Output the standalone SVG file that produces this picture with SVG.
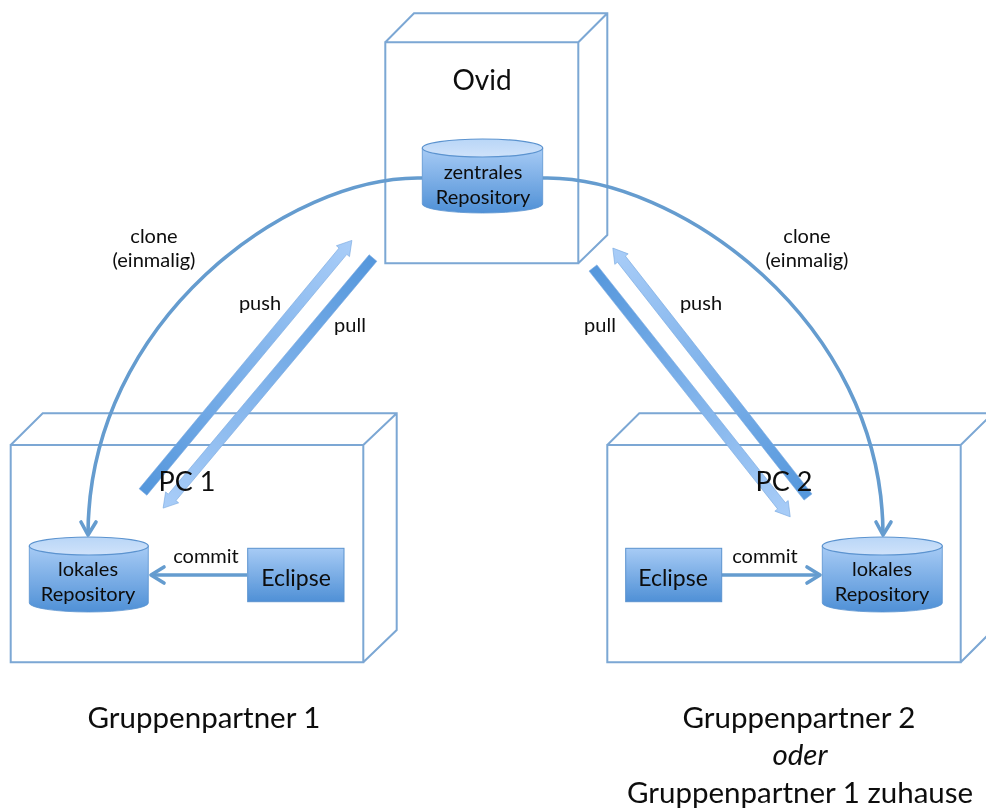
<svg xmlns="http://www.w3.org/2000/svg" width="986" height="809" viewBox="0 0 986 809">
<style>
text{font-family:Lato,"Liberation Sans",sans-serif;fill:#0c0c0c;text-anchor:middle}
.s{font-size:20px}.l{font-size:23px}.o{font-size:28px}.b{font-size:29.5px}.x{font-size:27px}
.box{fill:none;stroke:#7ba7d4;stroke-width:2}
.cyl{fill:url(#body);stroke:#5b93cf;stroke-width:.8}
.cap{fill:url(#cap);stroke:#5b93cf;stroke-width:1.2}
.rec{fill:url(#body);stroke:#5b93cf;stroke-width:1}
.arc{fill:none;stroke:#659ccf;stroke-width:3.6}
.hd{fill:none;stroke:#659ccf;stroke-width:3.6;stroke-linecap:round;stroke-linejoin:round}
.ar{fill:url(#fade);stroke:#79a9e0;stroke-width:.6}
</style>
<defs>
<linearGradient id="body" x1="0" y1="0" x2="0" y2="1"><stop offset="0" stop-color="#a7cbf5"/><stop offset="1" stop-color="#4f90d6"/></linearGradient>
<linearGradient id="cap" x1="0" y1="0" x2="0" y2="1"><stop offset="0" stop-color="#b9d6f7"/><stop offset="1" stop-color="#cfe2fa"/></linearGradient>
<linearGradient id="fade" x1="0" y1="0" x2="1" y2="0"><stop offset="0" stop-color="#5597dc"/><stop offset="1" stop-color="#a9cdf8"/></linearGradient>
<filter id="soft" x="-2%" y="-2%" width="104%" height="104%"><feGaussianBlur stdDeviation="0.6"/></filter>
</defs>
<rect width="986" height="809" fill="#fff"/>
<g filter="url(#soft)">
<g id="ovid">
<path class="box" d="M385.3,42.3H578.3V263.3H385.3ZM385.3,42.3L414,13.3H607.3V235L578.3,263.3M578.3,42.3L607.3,13.3"/>
<text class="o" x="482" y="90">Ovid</text>
</g>
<g id="pc1">
<path class="box" d="M10.7,445H363.3V662.3H10.7ZM10.7,445L42.7,413.3H396.7V630L363.3,662.3M363.3,445L396.7,413.3"/>
</g>
<g id="pc2">
<path class="box" d="M607.3,445H960.7V662.3H607.3ZM607.3,445L639.3,413.3H993V630L960.7,662.3M960.7,445L993,413.3"/>
</g>
<g id="connectors">
<path class="arc" d="M422,178C290,175 88,320 88,535"/>
<path class="hd" d="M81,522L88,535L96,522"/>
<path class="arc" d="M543,178C675,175 883,320 883,535"/>
<path class="hd" d="M876,522L883,535L891,522"/>
<path class="arc" d="M247,575H151"/>
<path class="hd" d="M164,567L151,575L164,583"/>
<path class="arc" d="M722,575H820"/>
<path class="hd" d="M807,567L820,575L807,583"/>
<path class="ar" transform="translate(143,492) rotate(-50.3)" d="M0,-5H313V-8.500L327,0L313,8.500V5H0Z"/>
<path class="ar" transform="translate(373,258) rotate(130)" d="M0,-5H312.500V-8.500L326.500,0L312.500,8.500V5H0Z"/>
<path class="ar" transform="translate(593,268) rotate(51.6)" d="M0,-5H303.500V-8.500L317.500,0L303.500,8.500V5H0Z"/>
<path class="ar" transform="translate(808,497) rotate(231.900)" d="M0,-5H302.300V-8.500L316.300,0L302.300,8.500V5H0Z"/>
</g>
<g id="central-repo">
<path class="cyl" d="M422.300,148V204A60.200,9 0 0 0 542.700,204V148Z"/>
<ellipse class="cap" cx="482.500" cy="148" rx="60.200" ry="9"/>
<text class="s" x="483" y="179">zentrales</text>
<text class="s" x="483" y="204">Repository</text>
</g>
<g id="local-repo-1">
<path class="cyl" d="M29.300,546V603A59.500,9 0 0 0 148.300,603V546Z"/>
<ellipse class="cap" cx="88.800" cy="546" rx="59.500" ry="9"/>
<text class="s" x="88" y="576">lokales</text>
<text class="s" x="88" y="601">Repository</text>
</g>
<g id="local-repo-2">
<path class="cyl" d="M822.300,546V603A60,9 0 0 0 942.300,603V546Z"/>
<ellipse class="cap" cx="882.300" cy="546" rx="60" ry="9"/>
<text class="s" x="882" y="576">lokales</text>
<text class="s" x="882" y="601">Repository</text>
</g>
<g id="eclipse-1">
<rect class="rec" x="247.700" y="548.300" width="96.300" height="53.400"/>
<text class="l" x="296" y="586">Eclipse</text>
</g>
<g id="eclipse-2">
<rect class="rec" x="625.700" y="548.300" width="96" height="53.400"/>
<text class="l" x="673" y="586">Eclipse</text>
</g>
<g id="labels">
<text class="x" x="187" y="491">PC 1</text>
<text class="x" x="784" y="491">PC 2</text>
<text class="s" x="154" y="243">clone</text>
<text class="s" x="154" y="267">(einmalig)</text>
<text class="s" x="807" y="243">clone</text>
<text class="s" x="807" y="267">(einmalig)</text>
<text class="s" x="260" y="310">push</text>
<text class="s" x="350" y="332">pull</text>
<text class="s" x="600" y="332">pull</text>
<text class="s" x="701" y="310">push</text>
<text class="s" x="206" y="563">commit</text>
<text class="s" x="765" y="563">commit</text>
<text class="b" x="204" y="728">Gruppenpartner 1</text>
<text class="b" x="799" y="728">Gruppenpartner 2</text>
<text class="b" x="800" y="765" font-style="italic">oder</text>
<text class="b" x="800" y="803">Gruppenpartner 1 zuhause</text>
</g>
</g>
</svg>
